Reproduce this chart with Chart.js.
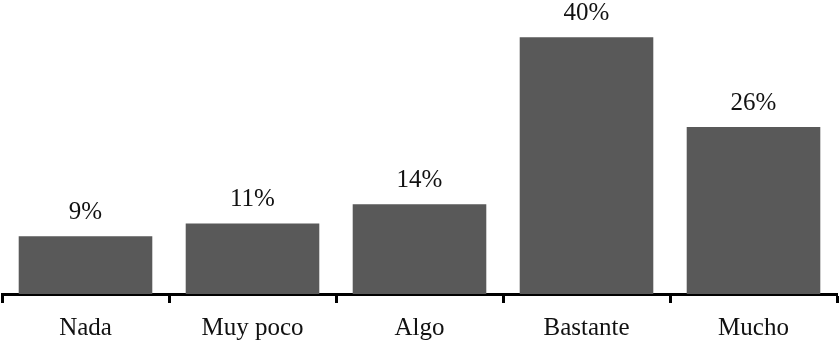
<!DOCTYPE html>
<html>
<head>
<meta charset="utf-8">
<script src="https://cdn.jsdelivr.net/npm/chart.js@4/dist/chart.umd.min.js"></script>
<style>
  html, body { margin: 0; padding: 0; background: #fff; }
  #wrap { width: 839px; height: 342px; position: relative; }
</style>
</head>
<body>
<div id="wrap"><canvas id="chart"></canvas></div>
<script>
const categories = ['Nada', 'Muy poco', 'Algo', 'Bastante', 'Mucho'];
const values = [9, 11, 14, 40, 26];
const valueLabels = ['9%', '11%', '14%', '40%', '26%'];

const serif = "'Liberation Serif', 'DejaVu Serif', serif";

// percent labels above each bar
const barLabels = {
  id: 'barLabels',
  afterDatasetsDraw(chart) {
    const ctx = chart.ctx;
    const meta = chart.getDatasetMeta(0);
    ctx.save();
    ctx.font = '25px ' + serif;
    ctx.fillStyle = '#111';
    ctx.textAlign = 'center';
    ctx.textBaseline = 'alphabetic';
    meta.data.forEach((bar, i) => {
      ctx.fillText(valueLabels[i], bar.x, bar.y - 17);
    });
    ctx.restore();
  }
};

new Chart(document.getElementById('chart').getContext('2d'), {
  type: 'bar',
  data: {
    labels: categories,
    datasets: [{
      data: values,
      backgroundColor: '#595959',
      barPercentage: 0.8,
      categoryPercentage: 1.0
    }]
  },
  options: {
    responsive: true,
    maintainAspectRatio: false,
    animation: false,
    layout: { padding: { left: 2, right: 2, top: 0, bottom: 0 } },
    plugins: {
      legend: { display: false },
      tooltip: { enabled: false }
    },
    scales: {
      x: {
        offset: true,
        afterFit(scale) { scale.height = 48; },
        grid: {
          offset: true,
          drawOnChartArea: false,
          drawTicks: true,
          tickLength: 9,
          tickWidth: 3,
          tickColor: '#000'
        },
        border: { display: true, width: 3, color: '#000' },
        ticks: {
          color: '#111',
          font: { family: serif, size: 25 },
          padding: 10,
          maxRotation: 0
        }
      },
      y: {
        display: false,
        min: 0,
        max: 45.8
      }
    }
  },
  plugins: [barLabels]
});
</script>
</body>
</html>
